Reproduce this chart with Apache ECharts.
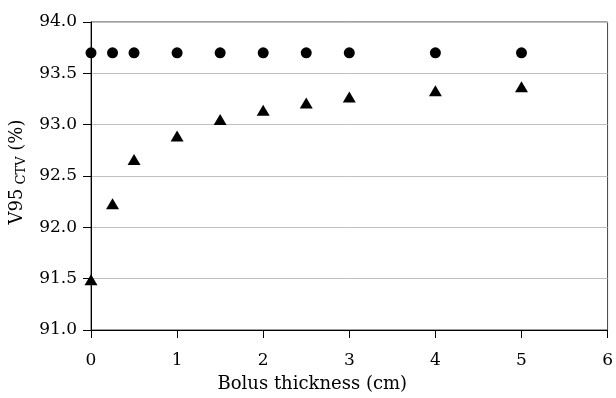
<!DOCTYPE html>
<html><head><meta charset="utf-8">
<script src="https://cdn.jsdelivr.net/npm/echarts@6/dist/echarts.min.js"></script>
<style>html,body{margin:0;padding:0;background:#fff}#c{width:616px;height:398px}</style>
</head><body><div id="c"></div>
<script>
const thickness = [0, 0.25, 0.5, 1, 1.5, 2, 2.5, 3, 4, 5];
const seriesCircle = [93.7, 93.7, 93.7, 93.7, 93.7, 93.7, 93.7, 93.7, 93.7, 93.7];
const seriesTriangle = [91.49, 92.23, 92.66, 92.89, 93.05, 93.14, 93.21, 93.27, 93.33, 93.37];
const xTitle = 'Bolus thickness (cm)';

const font = 'DejaVu Serif';
const chart = echarts.init(document.getElementById('c'));
chart.setOption({
  animation: false,
  grid: {left: 91, right: 4, top: 22, bottom: 66, show: true, borderColor: '#404040', borderWidth: 1},
  xAxis: {
    type: 'value', min: 0, max: 6, interval: 1,
    name: xTitle, nameLocation: 'middle', nameGap: 45,
    nameTextStyle: {fontFamily: font, fontSize: 18, color: '#000', padding: [0, 74, 0, 0]},
    axisLine: {show: true, lineStyle: {color: '#000', width: 1}},
    axisTick: {show: true, length: 8, inside: false, lineStyle: {color: '#000'}},
    axisLabel: {fontFamily: font, fontSize: 17, color: '#000', margin: 22},
    splitLine: {show: false}
  },
  yAxis: {
    type: 'value', min: 91, max: 94, interval: 0.5,
    name: '{m|V95}{s| CTV}{m| (%)}', nameLocation: 'middle', nameGap: 60, nameRotate: 90,
    nameTextStyle: {
      fontFamily: font, color: '#000', padding: [0, 0, 0, 8],
      rich: {
        m: {fontFamily: font, fontSize: 18, color: '#000', lineHeight: 22, verticalAlign: 'middle'},
        s: {fontFamily: font, fontSize: 13, color: '#000', lineHeight: 22, verticalAlign: 'bottom', padding: [6, 0, 0, 0]}
      }
    },
    axisLine: {show: true, lineStyle: {color: '#000', width: 1}},
    axisTick: {show: true, length: 8, inside: false, lineStyle: {color: '#000'}},
    axisLabel: {fontFamily: font, fontSize: 17, color: '#000', margin: 14, formatter: v => v.toFixed(1)},
    splitLine: {show: true, lineStyle: {color: '#c0c0c0', width: 1}}
  },
  series: [
    {type: 'scatter', data: thickness.map((x, i) => [x, seriesCircle[i]]), symbol: 'circle', symbolSize: 11,
     itemStyle: {color: '#000', opacity: 1}, clip: false},
    {type: 'scatter', data: thickness.map((x, i) => [x, seriesTriangle[i]]), symbol: 'triangle', symbolSize: [13, 11],
     itemStyle: {color: '#000', opacity: 1}, clip: false}
  ]
});
</script></body></html>
